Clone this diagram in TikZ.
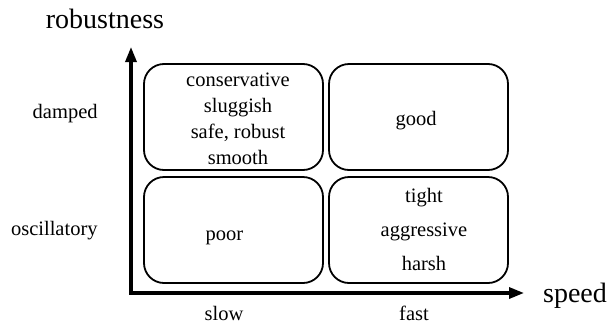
\documentclass[tikz,border=0pt]{standalone}
\usepackage{fontspec}
\setmainfont{Liberation Serif}
\usetikzlibrary{arrows.meta}

\begin{document}
\begin{tikzpicture}[x=0.5pt, y=-0.5pt,
    quadbox/.style={draw, line width=0.9pt, rounded corners=10pt,
        minimum width=89.5pt, minimum height=53pt, inner sep=0pt},
    quadtext/.style={align=center, inner sep=0pt},
    axislabel/.style={font=\fontsize{14}{16}\selectfont, inner sep=0pt},
    ticklabel/.style={font=\fontsize{10.25}{12}\selectfont, inner sep=0pt}]
    \useasboundingbox (0,0) rectangle (615,327);

    % Axes
    \coordinate (ytip) at (131,47);
    \coordinate (origin) at (131,293);
    \coordinate (xtip) at (524,293);
    \draw[line width=1.6pt, {Triangle[length=7.5pt,width=5.5pt]}-{Triangle[length=7.5pt,width=5.5pt]}]
        (ytip) -- (origin) -- (xtip);
    \node[axislabel, anchor=base] (robust) at (105,28) {robustness};
    \node[axislabel, anchor=base] (speed) at (575,302) {speed};

    % Axis categories
    \node[ticklabel, anchor=base east] (damped) at (98,118) {damped};
    \node[ticklabel, anchor=base east] (osc) at (98,235) {oscillatory};
    \node[ticklabel, anchor=base] (slow) at (224,320) {slow};
    \node[ticklabel, anchor=base] (fast) at (414,320) {fast};

    % Quadrants
    \node[quadbox] (slowdamped) at (233.5,117) {};
    \node[quadbox] (fastdamped) at (418.5,117) {};
    \node[quadbox] (slowosc) at (233.5,230) {};
    \node[quadbox] (fastosc) at (418.5,230) {};

    % Quadrant texts
    \node[quadtext, font=\fontsize{10.25}{13}\selectfont] (tlabel) at (238,119)
        {conservative\\ sluggish\\ safe, robust\\ smooth};
    \node[quadtext, font=\fontsize{10.25}{13}\selectfont, anchor=base] (trlabel) at (416,125) {good};
    \node[quadtext, font=\fontsize{10.25}{13}\selectfont, anchor=base] (bllabel) at (224.5,240) {poor};
    \node[quadtext, font=\fontsize{10.25}{17}\selectfont] (brlabel) at (424,229)
        {tight\\ aggressive\\ harsh};
\end{tikzpicture}
\end{document}
